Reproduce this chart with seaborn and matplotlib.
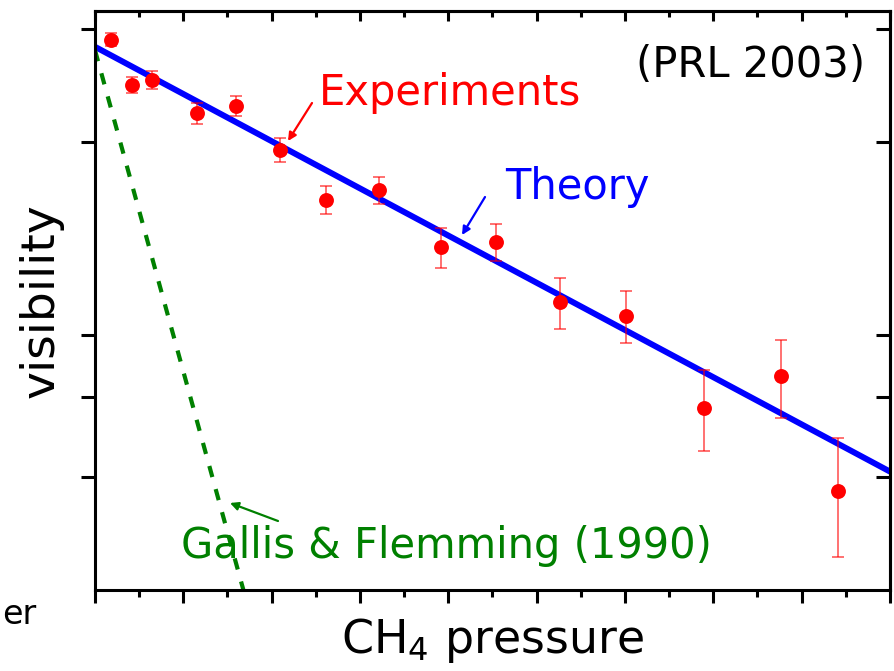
import numpy as np
import matplotlib
matplotlib.use("Agg")
import matplotlib.pyplot as plt
import seaborn as sns
from matplotlib.ticker import FixedLocator, NullLocator, NullFormatter

# ---- data ----
exp_x = [0.18, 0.42, 0.65, 1.16, 1.60, 2.09, 2.61, 3.22, 3.92, 4.54, 5.26, 6.01, 6.90, 7.77, 8.41]
exp_y = [1.443, 1.228, 1.250, 1.108, 1.138, 0.972, 0.812, 0.841, 0.685, 0.698, 0.562, 0.535, 0.385, 0.431, 0.285]
exp_err = [0.034, 0.035, 0.040, 0.040, 0.039, 0.042, 0.041, 0.041, 0.049, 0.047, 0.052, 0.050, 0.055, 0.060, 0.060]

theory_x = [0.0, 9.0]
theory_y = [1.407, 0.306]

gallis_x = [0.0, 1.68]
gallis_y = [1.39, 0.20]

x_major = [0, 1, 2, 3, 4, 5, 6, 7, 8, 9]
x_minor = [0.5, 1.5, 2.5, 3.5, 4.5, 5.5, 6.5, 7.5, 8.5]
y_major = [0.3, 0.4, 0.5, 1.0, 1.5]

# ---- style ----
sns.set_theme(style="ticks")
plt.rcParams["font.family"] = ["DejaVu Sans"]
plt.rcParams["mathtext.default"] = "regular"
plt.rcParams["text.color"] = "black"
plt.rcParams["axes.labelcolor"] = "black"

fig = plt.figure(figsize=(8.95, 6.71), dpi=100)
ax = fig.add_axes([95 / 895, 1 - 590 / 671, 795 / 895, 579 / 671])

ax.set_yscale("log")
ax.set_xlim(0, 9)
ax.set_ylim(0.2, 1.6)

# theory line
sns.lineplot(x=theory_x, y=theory_y, ax=ax, color="#0000ff", linewidth=4.3, zorder=2)
# Gallis & Flemming dashed line
sns.lineplot(x=gallis_x, y=gallis_y, ax=ax, color="#008000", linewidth=3.0,
             linestyle=(0, (2.75, 3.0)), zorder=2)
# experiments
ax.errorbar(exp_x, exp_y, yerr=exp_err, fmt="none", ecolor=(1, 0, 0, 0.65),
            elinewidth=1.2, capsize=4, capthick=1.2, zorder=3)
sns.scatterplot(x=exp_x, y=exp_y, ax=ax, color="#ff0000", s=115, linewidth=0, zorder=4)

# ticks
ax.xaxis.set_major_locator(FixedLocator(x_major))
ax.xaxis.set_minor_locator(FixedLocator(x_minor))
ax.yaxis.set_major_locator(FixedLocator(y_major))
ax.yaxis.set_minor_locator(NullLocator())
ax.xaxis.set_major_formatter(NullFormatter())
ax.yaxis.set_major_formatter(NullFormatter())
ax.yaxis.set_minor_formatter(NullFormatter())
ax.tick_params(axis="x", which="major", direction="out", length=9, width=2.2, bottom=True, top=False, color="black")
ax.tick_params(axis="x", which="minor", direction="out", length=5, width=2.2, bottom=True, top=False, color="black")
ax.tick_params(axis="y", which="major", direction="out", length=10, width=2.2, left=True, right=False, color="black")

for sp in ax.spines.values():
    sp.set_linewidth(2.2)
    sp.set_color("black")
    sp.set_visible(True)

secx = ax.secondary_xaxis("top")
secx.xaxis.set_major_locator(FixedLocator(x_major))
secx.xaxis.set_minor_locator(FixedLocator(x_minor))
secx.xaxis.set_major_formatter(NullFormatter())
secx.xaxis.set_minor_formatter(NullFormatter())
secx.tick_params(axis="x", which="major", direction="in", length=7, width=2.2, color="black")
secx.tick_params(axis="x", which="minor", direction="in", length=4, width=2.2, color="black")
for sp in secx.spines.values():
    sp.set_linewidth(2.2)
    sp.set_color("black")

secy = ax.secondary_yaxis("right")
secy.yaxis.set_major_locator(FixedLocator(y_major))
secy.yaxis.set_minor_locator(NullLocator())
secy.yaxis.set_major_formatter(NullFormatter())
secy.yaxis.set_minor_formatter(NullFormatter())
secy.tick_params(axis="y", which="major", direction="in", length=10, width=2.2, color="black")
for sp in secy.spines.values():
    sp.set_linewidth(2.2)
    sp.set_color("black")

# labels
ax.set_xlabel("CH$_4$ pressure", fontsize=33, labelpad=6, color="black")
ax.set_ylabel("visibility", fontsize=34, labelpad=9, color="black")

def axf(px, py):
    return ((px - 95) / 795, (590 - py) / 579)

ax.text(*axf(319, 105), "Experiments", transform=ax.transAxes, color="#ff0000",
        fontsize=30, ha="left", va="baseline")
ax.text(*axf(505, 199), "Theory", transform=ax.transAxes, color="#0000ff",
        fontsize=30, ha="left", va="baseline")
ax.text(*axf(865, 77), "(PRL 2003)", transform=ax.transAxes, color="black",
        fontsize=30, ha="right", va="baseline")
ax.text(*axf(181, 558), "Gallis & Flemming (1990)", transform=ax.transAxes, color="#008000",
        fontsize=30, ha="left", va="baseline")

ax.annotate("", xy=axf(288, 141), xytext=axf(312, 103), xycoords="axes fraction",
            textcoords="axes fraction",
            arrowprops=dict(arrowstyle="-|>", color="#ff0000", lw=1.6, mutation_scale=12,
                            shrinkA=0, shrinkB=0))
ax.annotate("", xy=axf(462, 235), xytext=axf(485, 197), xycoords="axes fraction",
            textcoords="axes fraction",
            arrowprops=dict(arrowstyle="-|>", color="#0000ff", lw=1.6, mutation_scale=12,
                            shrinkA=0, shrinkB=0))
ax.annotate("", xy=axf(230, 503), xytext=axf(278, 521), xycoords="axes fraction",
            textcoords="axes fraction",
            arrowprops=dict(arrowstyle="-|>", color="#008000", lw=1.6, mutation_scale=12,
                            shrinkA=0, shrinkB=0))

fig.text(2 / 895, 1 - 624 / 671, "er", ha="left", va="baseline", fontsize=24, color="black")

fig.savefig("out.png", dpi=100)
